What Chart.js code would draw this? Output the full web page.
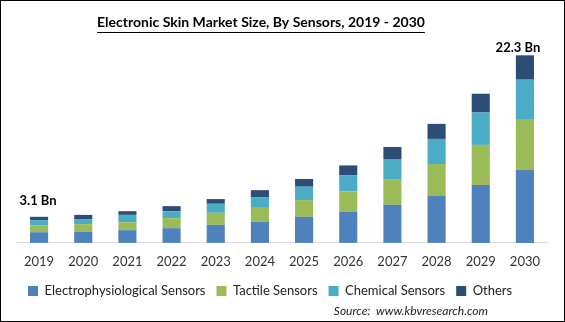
<!DOCTYPE html>
<html>
<head>
<meta charset="utf-8">
<script src="https://cdn.jsdelivr.net/npm/chart.js@4/dist/chart.umd.min.js"></script>
<style>
  html, body { margin: 0; padding: 0; background: #fff; }
  #wrap { width: 565px; height: 322px; box-sizing: border-box; border: 1px solid #000; position: relative; }
  #wrap canvas { display: block; }
</style>
</head>
<body>
<div id="wrap"><canvas id="market-chart"></canvas></div>
<script>
const years = ["2019", "2020", "2021", "2022", "2023", "2024", "2025", "2026", "2027", "2028", "2029", "2030"];
const electro = [1.27, 1.30, 1.51, 1.75, 2.15, 2.50, 3.10, 3.69, 4.53, 5.57, 6.88, 8.67];
const tactile = [0.83, 0.93, 0.95, 1.19, 1.43, 1.67, 1.99, 2.42, 3.06, 3.81, 4.77, 5.96];
const chemical = [0.60, 0.60, 0.87, 0.83, 1.07, 1.27, 1.59, 1.91, 2.38, 2.98, 3.85, 4.77];
const others = [0.40, 0.50, 0.44, 0.60, 0.56, 0.83, 0.92, 1.19, 1.43, 1.79, 2.23, 2.90];
const series_names = ["Electrophysiological Sensors", "Tactile Sensors", "Chemical Sensors", "Others"];
const total_labels = { "2019": "3.1 Bn", "2030": "22.3 Bn" };
const title_text = "Electronic Skin Market Size, By Sensors, 2019 - 2030";
const source_text = "Source:  www.kbvresearch.com";

const colors = ["rgb(79, 129, 189)", "rgb(155, 187, 89)", "rgb(75, 172, 198)", "rgb(44, 77, 117)"];
const market_chart = document.getElementById("market-chart");

// title with underline, total labels and source line
const extras = {
  id: "extras",
  afterDraw(chart) {
    const ctx = chart.ctx;
    ctx.save();
    ctx.fillStyle = "#000";
    ctx.font = "bold 14px Lato";
    ctx.textAlign = "center";
    ctx.textBaseline = "middle";
    const tx = 260, ty = 21;
    ctx.fillText(title_text, tx, ty);
    const tw = ctx.measureText(title_text).width;
    ctx.strokeStyle = "#000";
    ctx.lineWidth = 1;
    ctx.beginPath();
    ctx.moveTo(tx - tw / 2, ty + 10.5);
    ctx.lineTo(tx + tw / 2, ty + 10.5);
    ctx.stroke();

    const x = chart.scales.x, y = chart.scales.y;
    ctx.font = "bold 13px Lato";
    for (const [yr, txt] of Object.entries(total_labels)) {
      const i = years.indexOf(yr);
      const total = electro[i] + tactile[i] + chemical[i] + others[i];
      const off = i === 0 ? { dx: -1, dy: -16 } : { dx: -7, dy: -7 };
      ctx.fillText(txt, x.getPixelForValue(i) + off.dx, y.getPixelForValue(total) + off.dy);
    }

    ctx.font = "italic 12px Lato";
    ctx.textAlign = "right";
    ctx.fillStyle = "#222";
    ctx.fillText(source_text, 487, 310);
    ctx.restore();
  }
};

new Chart(market_chart, {
  type: "bar",
  data: {
    labels: years,
    datasets: [electro, tactile, chemical, others].map((d, k) => ({
      label: series_names[k],
      data: d,
      backgroundColor: colors[k],
      borderWidth: 0,
      barPercentage: 0.41,
      categoryPercentage: 1
    }))
  },
  options: {
    responsive: true,
    maintainAspectRatio: false,
    animation: false,
    layout: { padding: { top: 40, left: 16, right: 17, bottom: 13.5 } },
    scales: {
      x: {
        stacked: true,
        grid: { display: false },
        border: { display: true, color: "#d9d9d9" },
        ticks: { color: "#333", font: { family: "Lato", size: 13 }, padding: 3.5 }
      },
      y: {
        stacked: true,
        display: false,
        min: 0,
        max: 24
      }
    },
    plugins: {
      legend: {
        position: "bottom",
        align: "start",
        labels: {
          color: "#222",
          font: { family: "Lato", size: 13 },
          boxWidth: 10,
          boxHeight: 10,
          padding: 11
        }
      },
      tooltip: { enabled: false }
    }
  },
  plugins: [extras]
});
</script>
</body>
</html>
